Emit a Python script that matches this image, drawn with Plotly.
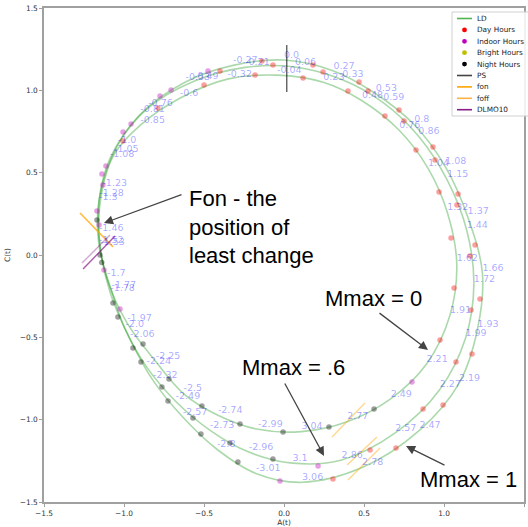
import numpy as np
import plotly.graph_objects as go

# ---------------- data ----------------
# hourly phase labels (atan2(A, C)) along each limit cycle and their radius
lbl_m0 = ["-0.04", "-0.32", "-0.6", "-0.85", "-1.05", "-1.23", "-1.46", "-1.7", "-1.97", "-2.25", "-2.5", "-2.74",
          "-2.99", "3.04", "2.77", "2.49", "2.21", "1.91", "1.62", "1.32", "1.04", "0.76", "0.48", "0.23"]
r_m0 = [1.093, 1.125, 1.153, 1.195, 1.225, 1.204, 1.164, 1.115, 1.064, 1.030, 1.050, 1.057,
        1.071, 1.078, 1.087, 1.099, 1.110, 1.100, 1.081, 1.053, 1.043, 1.045, 1.056, 1.077]

lbl_m06 = ["0.06", "-0.21", "-0.49", "-0.76", "-1.0", "-1.28", "-1.52", "-1.77", "-2.0", "-2.24", "-2.49", "-2.73",
           "-2.96", "3.1", "2.86", "2.57", "2.27", "1.99", "1.72", "1.44", "1.15", "0.86", "0.59", "0.33"]
r_m06 = [1.144, 1.165, 1.196, 1.232, 1.235, 1.205, 1.158, 1.100, 1.090, 1.095, 1.117, 1.160,
         1.217, 1.265, 1.296, 1.285, 1.271, 1.242, 1.200, 1.152, 1.117, 1.108, 1.114, 1.125]

lbl_m1 = ["0.0", "-0.27", "-0.53", "-0.81", "-1.08", "-1.3", "-1.53", "-1.78", "-2.06", "-2.32", "-2.57", "-2.8",
          "-3.01", "3.06", "2.78", "2.47", "2.19", "1.93", "1.66", "1.37", "1.08", "0.8", "0.53", "0.27"]
r_m1 = [1.184, 1.195, 1.218, 1.240, 1.235, 1.200, 1.150, 1.110, 1.090, 1.118, 1.170, 1.252,
        1.338, 1.385, 1.380, 1.360, 1.343, 1.291, 1.245, 1.171, 1.142, 1.135, 1.135, 1.160]

# hourly markers (A, C) and light category
m0_A = [-0.500, -0.181, 0.119, 0.400, 0.631, 0.825, 0.969, 1.044, 1.063, 0.975, 0.800, 0.563,
        0.281, -0.006, -0.275, -0.513, -0.719, -0.881, -1.025, -1.125, -1.156, -1.132, -1.006, -0.788]
m0_C = [1.032, 1.093, 1.075, 0.996, 0.844, 0.638, 0.383, 0.103, -0.200, -0.516, -0.771, -0.935,
        -1.044, -1.075, -1.026, -0.917, -0.753, -0.540, -0.328, -0.091, 0.182, 0.425, 0.692, 0.893]
m0_kind = ["day"] * 10 + ["indoor"] + ["night"] * 7 + ["indoor"] * 4 + ["day"] * 2

m06_A = [-0.400, -0.069, 0.244, 0.525, 0.750, 0.944, 1.081, 1.163, 1.169, 1.075, 0.869, 0.538,
         0.213, -0.069, -0.338, -0.569, -0.763, -0.944, -1.069, -1.150, -1.169, -1.113, -0.956, -0.706]
m06_C = [1.117, 1.154, 1.111, 0.996, 0.814, 0.577, 0.304, -0.006, -0.334, -0.650, -0.935, -1.184,
         -1.281, -1.239, -1.141, -0.990, -0.801, -0.565, -0.291, 0.000, 0.267, 0.540, 0.795, 1.002]
m06_kind = ["day"] * 12 + ["indoor"] + ["night"] * 7 + ["indoor"] * 4

m1_A = [-0.475, -0.138, 0.181, 0.469, 0.719, 0.931, 1.088, 1.194, 1.225, 1.175, 0.994, 0.700,
        0.306, -0.025, -0.288, -0.519, -0.725, -0.894, -1.038, -1.139, -1.169, -1.138, -1.006, -0.775]
m1_C = [1.117, 1.178, 1.154, 1.050, 0.880, 0.656, 0.370, 0.061, -0.267, -0.601, -0.911, -1.172,
        -1.360, -1.372, -1.257, -1.087, -0.886, -0.650, -0.376, -0.045, 0.213, 0.492, 0.747, 0.965]
m1_kind = ["indoor"] + ["day"] * 12 + ["indoor"] + ["night"] * 7 + ["indoor"] * 3

# phase-marker segments (endpoints in A, C)
ps_A = [0.017, 0.017]
ps_C = [0.99, 1.275]
fon_A = [-1.275, -1.069]
fon_C = [0.255, 0.049]
foff_A = [[0.300, 0.506], [0.394, 0.581], [0.400, 0.600]]
foff_C = [[-1.105, -0.899], [-1.275, -1.105], [-1.366, -1.172]]
dlmo_A = [[-1.2625, -1.0875], [-1.256, -1.056]]
dlmo_C = [[-0.049, 0.121], [-0.085, 0.115]]

legend_labels = ["LD", "Day Hours", "Indoor Hours", "Bright Hours", "Night Hours", "PS", "fon", "foff", "DLMO10"]
legend_types = ["line", "dot", "dot", "dot", "dot", "line", "line", "line", "line"]
legend_colors = ["rgba(40,160,40,0.8)", "#ff0000", "#c000c0", "#bfbf00", "#000000",
                 "#444444", "#ffa500", "#ffb347", "#8b1a8b"]

# ---------------- styles ----------------
curve_col = "rgba(0,140,0,0.33)"
kind_cols = {"day": "rgba(255,0,0,0.38)", "indoor": "rgba(191,0,191,0.38)",
             "bright": "rgba(191,191,0,0.38)", "night": "rgba(0,0,0,0.38)"}
lbl_col = "rgba(0,0,255,0.36)"

fig = go.Figure()

curves = [(lbl_m0, r_m0), (lbl_m06, r_m06), (lbl_m1, r_m1)]
for lbls, rs in curves:
    th = np.array([float(s) for s in lbls])
    r = np.array(rs)
    A = r * np.sin(th)
    C = r * np.cos(th)
    fig.add_trace(go.Scatter(x=np.append(A, A[0]), y=np.append(C, C[0]), mode="lines",
                             line=dict(color=curve_col, width=1.6, shape="spline", smoothing=1.0),
                             hoverinfo="skip"))

allA = m0_A + m06_A + m1_A
allC = m0_C + m06_C + m1_C
allK = m0_kind + m06_kind + m1_kind
for k in ["day", "indoor", "bright", "night"]:
    xs = [a for a, kk in zip(allA, allK) if kk == k]
    ys = [c for c, kk in zip(allC, allK) if kk == k]
    fig.add_trace(go.Scatter(x=xs, y=ys, mode="markers",
                             marker=dict(size=5.5, color=kind_cols[k], line=dict(width=0))))

fig.add_trace(go.Scatter(x=ps_A, y=ps_C, mode="lines", line=dict(color="rgba(0,0,0,0.6)", width=1.5)))
fig.add_trace(go.Scatter(x=fon_A, y=fon_C, mode="lines", line=dict(color="rgba(255,165,0,0.75)", width=1.6)))
for xa, yc in zip(foff_A, foff_C):
    fig.add_trace(go.Scatter(x=xa, y=yc, mode="lines", line=dict(color="rgba(255,165,0,0.45)", width=1.3)))
for i, (xa, yc) in enumerate(zip(dlmo_A, dlmo_C)):
    fig.add_trace(go.Scatter(x=xa, y=yc, mode="lines",
                             line=dict(color="rgba(128,0,128,%s)" % (0.35 if i == 0 else 0.65), width=1.4)))

for lbls, rs in curves:
    th = np.array([float(s) for s in lbls])
    r = np.array(rs)
    fig.add_trace(go.Scatter(x=r * np.sin(th), y=r * np.cos(th), mode="text", text=lbls,
                             textposition="top right",
                             textfont=dict(size=9.5, color=lbl_col, family="DejaVu Sans")))

# ---------------- annotations ----------------
big = dict(family="Liberation Sans", size=22, color="black")
texts = [("Fon - the<br>position of<br>least change", -0.606, 0.170),
         ("Mmax = 0", 0.244, -0.267),
         ("Mmax = .6", -0.275, -0.686),
         ("Mmax = 1", 0.8375, -1.366)]
ann = []
for t, x, y in texts:
    ann.append(dict(text=t, x=x, y=y, xref="x", yref="y", xanchor="left", yanchor="middle",
                    align="left", showarrow=False, font=big))
arrows = [(-1.125, 0.194, -0.631, 0.370),
          (0.900, -0.577, 0.5875, -0.346),
          (0.250, -1.220, 0.000, -0.771),
          (0.7625, -1.160, 1.0125, -1.281)]
for x, y, ax, ay in arrows:
    ann.append(dict(text="", x=x, y=y, ax=ax, ay=ay, xref="x", yref="y", axref="x", ayref="y",
                    showarrow=True, arrowhead=2, arrowsize=1.4, arrowwidth=1.3, arrowcolor="#444444"))

# manual compact legend (paper coordinates)
def px2paper_x(px):
    return (px - 44) / 480.0

def px2paper_y(py):
    return (502 - py) / 494.0

shapes = [dict(type="rect", xref="paper", yref="paper", x0=px2paper_x(452), x1=px2paper_x(540),
               y0=px2paper_y(116), y1=px2paper_y(12), line=dict(color="#d0d0d0", width=1),
               fillcolor="rgba(255,255,255,0.85)", layer="above")]
for i, (lab, typ, col) in enumerate(zip(legend_labels, legend_types, legend_colors)):
    yy = px2paper_y(18.5 + 11.4 * i)
    if typ == "line":
        shapes.append(dict(type="line", xref="paper", yref="paper", x0=px2paper_x(457), x1=px2paper_x(472),
                           y0=yy, y1=yy, line=dict(color=col, width=1.6), layer="above"))
    else:
        shapes.append(dict(type="circle", xref="paper", yref="paper", xsizemode="pixel", ysizemode="pixel",
                           xanchor=px2paper_x(464.5), yanchor=yy, x0=-2.4, x1=2.4, y0=-2.4, y1=2.4,
                           fillcolor=col, line=dict(width=0), layer="above"))
    ann.append(dict(text=lab, xref="paper", yref="paper", x=px2paper_x(475), y=yy, xanchor="left",
                    yanchor="middle", showarrow=False,
                    font=dict(family="DejaVu Sans", size=7.3, color="#222222")))

axis_common = dict(range=[-1.5, 1.5], tick0=-1.5, dtick=0.5, tickformat=".1f", showgrid=False, zeroline=False,
                   showline=True, linecolor="#a0a0a0", linewidth=1.5, mirror=True, ticks="outside", ticklen=3,
                   tickwidth=1, tickcolor="#a0a0a0",
                   tickfont=dict(family="DejaVu Sans", size=7.4, color="#333333"), automargin=False)
fig.update_xaxes(**axis_common, title=dict(text="A(t)", font=dict(family="DejaVu Sans", size=7.4, color="#333333"),
                                           standoff=2))
fig.update_yaxes(**axis_common, title=dict(text="C(t)", font=dict(family="DejaVu Sans", size=7.4, color="#333333"),
                                           standoff=8))

fig.update_layout(width=528, height=527, margin=dict(l=44, r=4, t=8, b=25), showlegend=False,
                  plot_bgcolor="white", paper_bgcolor="white", annotations=ann, shapes=shapes)

fig.write_html("out.html")
